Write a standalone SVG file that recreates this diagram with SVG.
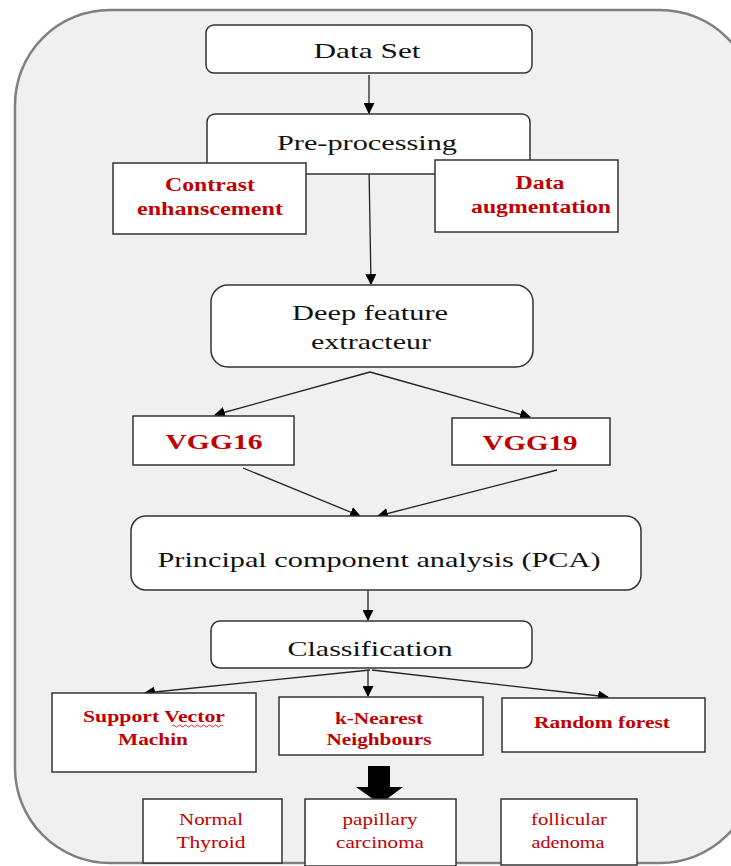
<svg xmlns="http://www.w3.org/2000/svg" width="731" height="866" viewBox="0 0 731 866">
<style>
.bg{fill:#f0f0f0;stroke:#7f7f7f;stroke-width:2.5}
.rb{fill:#fff;stroke:#333;stroke-width:1.5}
.sb{fill:#fff;stroke:#333;stroke-width:1.5}
text{font-family:"Liberation Serif","Times New Roman",Tinos,"DejaVu Serif","Noto Serif",serif;text-anchor:middle}
.t{fill:#111}
.r{fill:#c00000;font-weight:bold}
.rn{fill:#c00000}
.c{stroke:#222;stroke-width:1.3;fill:none;marker-end:url(#ah)}
</style>
<defs>
<marker id="ah" viewBox="0 0 10 10" refX="9" refY="5" markerWidth="11" markerHeight="11" markerUnits="userSpaceOnUse" orient="auto">
<path d="M0,0 L10,5 L0,10 z" fill="#000"/>
</marker>
</defs>
<rect class="bg" x="15" y="10" width="740" height="853" rx="95" ry="95"/>

<g id="connectors">
<line class="c" x1="369" y1="75" x2="369" y2="113"/>
<line class="c" x1="369" y1="168" x2="371" y2="284"/>
<line class="c" x1="370" y1="372" x2="215" y2="415"/>
<line class="c" x1="370" y1="372" x2="530" y2="417"/>
<line class="c" x1="243" y1="468" x2="360" y2="516"/>
<line class="c" x1="557" y1="470" x2="378" y2="516"/>
<line class="c" x1="368" y1="590" x2="368" y2="620"/>
<line class="c" x1="370" y1="670" x2="145" y2="693"/>
<line class="c" x1="368" y1="670" x2="368" y2="696"/>
<line class="c" x1="372" y1="670" x2="608" y2="697"/>
<path d="M368,766 H390 V787 H403 L380,804 L356,787 H368 Z" fill="#000"/>
</g>

<g id="dataset">
<rect class="rb" x="206" y="25" width="326" height="48" rx="8"/>
<text class="t" x="367" y="58" font-size="22" textLength="107" lengthAdjust="spacingAndGlyphs">Data Set</text>
</g>
<g id="preprocessing">
<rect class="rb" x="207" y="114" width="323" height="60" rx="8"/>
<text class="t" x="367" y="150" font-size="22" textLength="180" lengthAdjust="spacingAndGlyphs">Pre-processing</text>
</g>
<g id="contrast">
<rect class="sb" x="113" y="163" width="193" height="71"/>
<text class="r" x="210" y="191" font-size="18" textLength="90" lengthAdjust="spacingAndGlyphs">Contrast</text>
<text class="r" x="210" y="215" font-size="18" textLength="146" lengthAdjust="spacingAndGlyphs">enhanscement</text>
</g>
<g id="augmentation">
<rect class="sb" x="435" y="160" width="183" height="72"/>
<text class="r" x="540" y="189" font-size="18" textLength="49" lengthAdjust="spacingAndGlyphs">Data</text>
<text class="r" x="541" y="213" font-size="18" textLength="140" lengthAdjust="spacingAndGlyphs">augmentation</text>
</g>
<g id="deepfeature">
<rect class="rb" x="211" y="285" width="322" height="82" rx="17"/>
<text class="t" x="370" y="320" font-size="22" textLength="156" lengthAdjust="spacingAndGlyphs">Deep feature</text>
<text class="t" x="371" y="349" font-size="22" textLength="120" lengthAdjust="spacingAndGlyphs">extracteur</text>
</g>
<g id="vgg16">
<rect class="sb" x="133" y="416" width="161" height="49"/>
<text class="r" x="214" y="449" font-size="22" textLength="97" lengthAdjust="spacingAndGlyphs">VGG16</text>
</g>
<g id="vgg19">
<rect class="sb" x="452" y="418" width="158" height="47"/>
<text class="r" x="530" y="450" font-size="22" textLength="95" lengthAdjust="spacingAndGlyphs">VGG19</text>
</g>
<g id="pca">
<rect class="rb" x="131" y="516" width="510" height="74" rx="15"/>
<text class="t" x="379" y="567" font-size="22" textLength="443" lengthAdjust="spacingAndGlyphs">Principal component analysis (PCA)</text>
</g>
<g id="classification">
<rect class="rb" x="211" y="621" width="321" height="47" rx="9"/>
<text class="t" x="370" y="656" font-size="22" textLength="165" lengthAdjust="spacingAndGlyphs">Classification</text>
</g>
<g id="svm">
<rect class="sb" x="52" y="693" width="204" height="79"/>
<text class="r" x="154" y="722" font-size="16" textLength="142" lengthAdjust="spacingAndGlyphs">Support Vector</text>
<text class="r" x="153" y="745" font-size="16" textLength="70" lengthAdjust="spacingAndGlyphs">Machin</text>
<path d="M172,726 q1.5,-2 3,0 t3,0 t3,0 t3,0 t3,0 t3,0 t3,0 t3,0 t3,0 t3,0 t3,0 t3,0 t3,0 t3,0 t3,0 t3,0 t3,0" fill="none" stroke="#c00000" stroke-width="0.8"/>
</g>
<g id="knn">
<rect class="sb" x="279" y="697" width="204" height="58"/>
<text class="r" x="379" y="724" font-size="16" textLength="88" lengthAdjust="spacingAndGlyphs">k-Nearest</text>
<text class="r" x="379" y="745" font-size="16" textLength="105" lengthAdjust="spacingAndGlyphs">Neighbours</text>
</g>
<g id="randomforest">
<rect class="sb" x="502" y="698" width="203" height="54"/>
<text class="r" x="602" y="728" font-size="16" textLength="136" lengthAdjust="spacingAndGlyphs">Random forest</text>
</g>
<g id="normal">
<rect class="sb" x="143" y="799" width="139" height="64"/>
<text class="rn" x="211" y="825" font-size="17" textLength="64" lengthAdjust="spacingAndGlyphs">Normal</text>
<text class="rn" x="211" y="848" font-size="17" textLength="69" lengthAdjust="spacingAndGlyphs">Thyroid</text>
</g>
<g id="papillary">
<rect class="sb" x="305" y="799" width="151" height="67"/>
<text class="rn" x="380" y="825" font-size="17" textLength="75" lengthAdjust="spacingAndGlyphs">papillary</text>
<text class="rn" x="380" y="848" font-size="17" textLength="88" lengthAdjust="spacingAndGlyphs">carcinoma</text>
</g>
<g id="follicular">
<rect class="sb" x="501" y="799" width="136" height="66"/>
<text class="rn" x="569" y="825" font-size="17" textLength="76" lengthAdjust="spacingAndGlyphs">follicular</text>
<text class="rn" x="568" y="848" font-size="17" textLength="73" lengthAdjust="spacingAndGlyphs">adenoma</text>
</g>
</svg>
